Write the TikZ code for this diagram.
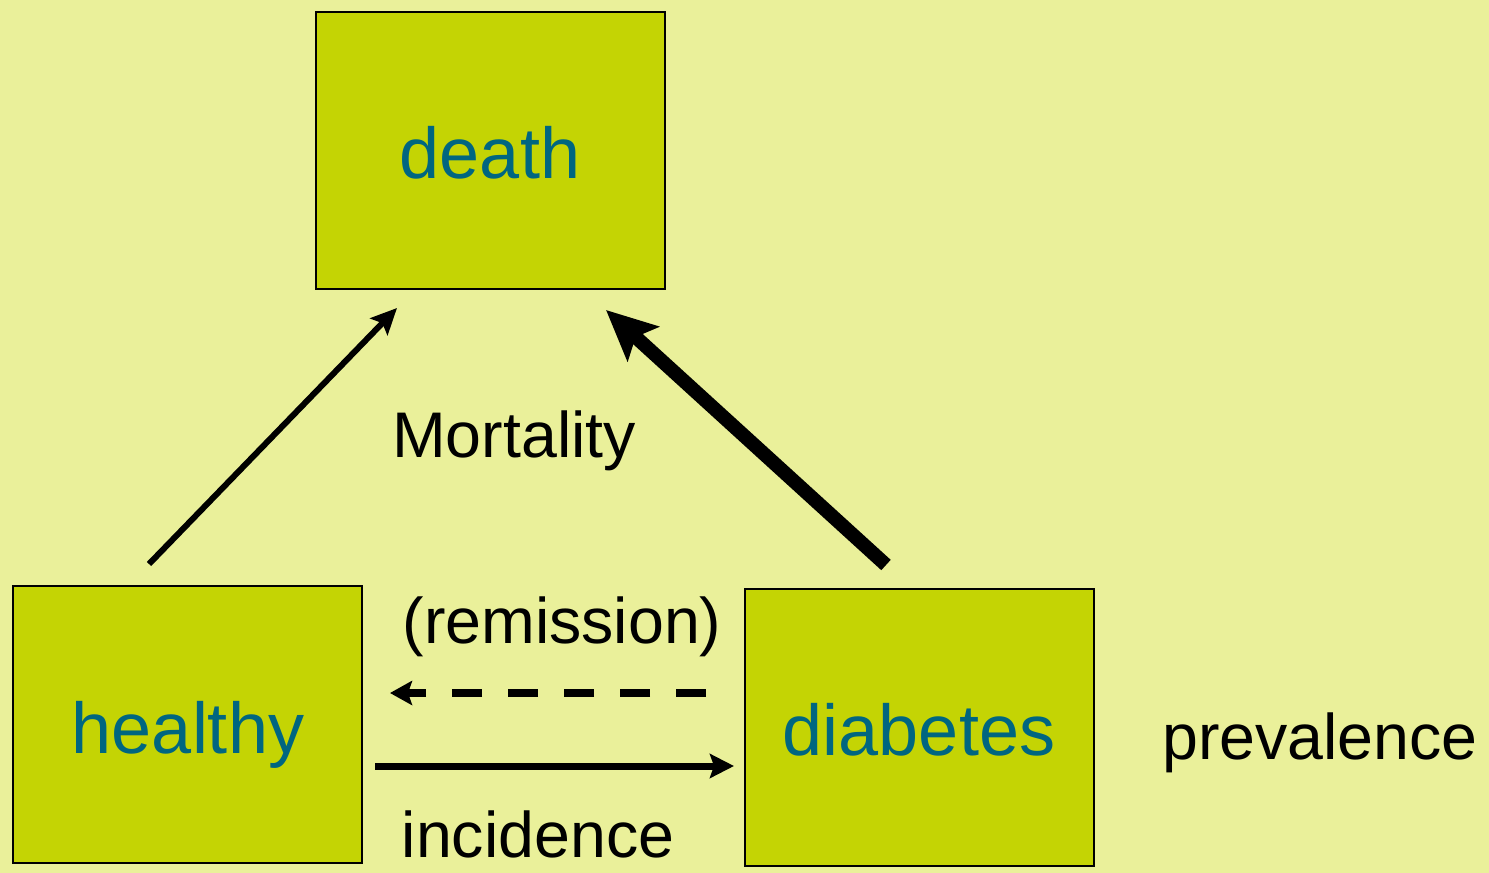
\documentclass[tikz,border=0pt]{standalone}
\usepackage{fontspec}
\setmainfont{Liberation Sans}
\usetikzlibrary{arrows.meta}
\definecolor{bgyellow}{RGB}{234,240,154}
\definecolor{boxgreen}{RGB}{196,212,4}
\definecolor{statetext}{RGB}{0,102,128}
\begin{document}
\begin{tikzpicture}[x=1pt,y=-1pt,
  statebox/.style={draw=black,line width=2pt,fill=boxgreen,minimum width=349pt,minimum height=277pt,
    inner sep=0pt},
  statename/.style={inner sep=0pt,text=statetext,font=\fontsize{72}{80}\selectfont},
  label/.style={inner sep=0pt,text=black,font=\fontsize{64.5}{72}\selectfont},
  thinarrow/.style={line width=6pt,-{Stealth[length=26pt,width=24pt,inset=5pt]}},
  thickarrow/.style={line width=14pt,-{Stealth[length=50pt,width=46pt,inset=10pt]}},
  flowarrow/.style={line width=7pt,-{Stealth[length=24pt,width=24pt,inset=4pt]}},
  backarrow/.style={line width=8pt,dash pattern=on 30pt off 26pt,-{Stealth[length=22pt,width=24pt,inset=4pt]}}]
  \fill[bgyellow] (0,0) rectangle (1489,873);
  \useasboundingbox (0,0) rectangle (1489,873);

  % states
  \node[statebox] (death) at (490,150) {};
  \node[statebox] (healthy) at (187.5,724) {};
  \node[statebox] (diabetes) at (919.5,727) {};
  \node[statename] (deathtext) at (490,153) {death};
  \node[statename] (healthytext) at (188,735) {healthy};
  \node[statename] (diabetestext) at (919,730) {diabetes};

  % arrow end points
  \coordinate (hd-start) at (149,564);
  \coordinate (hd-end) at (397,308);
  \coordinate (dd-start) at (886,565);
  \coordinate (dd-end) at (606,310);
  \coordinate (rem-start) at (706,693);
  \coordinate (rem-end) at (390,693);
  \coordinate (inc-start) at (375,766);
  \coordinate (inc-end) at (734,766);

  \draw[thinarrow] (hd-start) -- (hd-end);
  \draw[thickarrow] (dd-start) -- (dd-end);
  \draw[backarrow] (rem-start) -- (rem-end);
  \draw[flowarrow] (inc-start) -- (inc-end);

  % labels
  \node[label] (mort) at (514,441) {Mortality};
  \node[label] (rem) at (562,627) {(remission)};
  \node[label] (inc) at (538,834) {incidence};
  \node[label] (prev) at (1320,743) {prevalence};
\end{tikzpicture}
\end{document}
